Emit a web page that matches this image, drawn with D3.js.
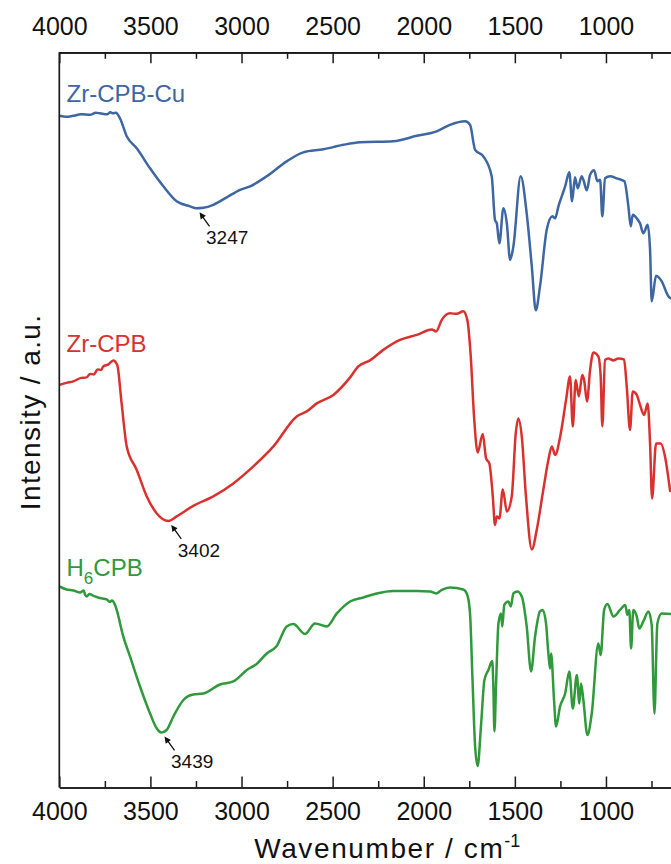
<!DOCTYPE html>
<html>
<head>
<meta charset="utf-8">
<script src="https://cdn.jsdelivr.net/npm/d3@7"></script>
<style>
  body { margin: 0; background: #fff; }
  svg { display: block; font-family: Arial, "Liberation Sans", Helvetica, sans-serif; }
</style>
</head>
<body>
<svg id="chart" width="671" height="864"></svg>
<script>
// FT-IR spectra: [wavenumber (cm-1), intensity (a.u., offset per trace)]
const zrCpbCu = [
  [4000,134.3],[3960,134.1],[3925,134.3],[3880,134.6],[3831,134.5],[3800,134.9],[3777,134.8],
  [3738,134.6],[3720,135.0],[3705,134.8],[3690,134.9],[3667,133.8],[3630,130.2],[3575,127.8],
  [3502,123.8],[3429,120.2],[3356,117.2],[3283,116.2],[3247,115.8],[3210,115.9],[3155,116.5],
  [3081,118.0],[3008,119.5],[2953,120.2],[2862,122.2],[2752,125.2],[2661,127.0],[2551,127.6],
  [2441,128.5],[2350,129.0],[2167,129.2],[2038,130.3],[1929,131.2],[1856,132.5],[1773,133.2],
  [1746,132.5],[1718,127.5],[1673,126.2],[1627,122.2],[1609,113.5],[1599,112.8],[1585,108.8],
  [1563,115.8],[1544,112.8],[1526,105.5],[1508,108.2],[1468,122.2],[1435,114.8],[1407,104.2],
  [1385,95.4],[1362,100.2],[1325,111.5],[1294,114.2],[1279,113.8],[1261,116.2],[1224,120.2],
  [1201,123.0],[1186,117.2],[1170,122.0],[1155,119.8],[1133,122.2],[1124,121.5],[1105,119.4],
  [1087,122.5],[1065,123.4],[1047,121.2],[1032,121.5],[1020,114.2],[1005,121.8],[977,122.2],
  [941,121.8],[899,121.2],[877,116.2],[864,112.2],[853,114.5],[831,113.8],[813,112.8],
  [795,110.8],[771,112.5],[758,107.5],[749,97.2],[725,102.3],[694,101.2],[657,98.2],[643,97.8]
];

const zrCpb = [
  [4000,80.5],[3960,80.9],[3923,81.2],[3880,81.9],[3850,82.0],[3831,82.7],[3810,82.6],
  [3790,83.6],[3770,83.5],[3759,84.2],[3730,84.6],[3704,85.4],[3682,84.5],[3658,76.8],
  [3630,68.2],[3575,63.5],[3520,58.2],[3465,54.8],[3402,53.3],[3356,54.2],[3265,56.3],
  [3155,58.2],[3045,60.8],[2935,64.2],[2825,68.2],[2697,74.2],[2642,75.2],[2587,76.8],
  [2496,78.5],[2404,82.0],[2359,84.2],[2295,85.4],[2222,87.5],[2130,89.5],[2038,90.5],
  [1956,91.6],[1932,91.2],[1901,93.5],[1856,94.8],[1819,94.7],[1783,95.2],[1761,93.5],
  [1742,86.2],[1724,74.2],[1704,67.0],[1676,70.7],[1658,65.8],[1640,64.8],[1621,58.2],
  [1609,52.5],[1599,54.2],[1585,53.8],[1566,59.6],[1544,55.2],[1517,58.2],[1495,70.8],
  [1481,73.8],[1462,70.2],[1439,58.2],[1407,47.6],[1380,51.5],[1344,59.5],[1316,65.5],
  [1297,68.2],[1279,66.5],[1248,70.8],[1219,77.5],[1197,82.2],[1182,72.2],[1166,81.5],
  [1149,78.2],[1130,82.5],[1120,81.5],[1104,77.2],[1087,83.5],[1069,87.0],[1042,86.2],
  [1029,82.2],[1020,72.2],[1005,85.5],[987,85.8],[959,85.4],[932,85.8],[901,85.6],
  [886,80.2],[868,71.5],[853,79.2],[831,78.5],[813,76.5],[791,74.5],[771,76.8],[758,68.8],
  [747,57.8],[725,68.8],[699,68.8],[676,66.2],[648,59.3]
];

const h6Cpb = [
  [4000,40.2],[3960,39.6],[3923,39.4],[3886,39.0],[3866,39.4],[3859,38.6],[3850,38.2],
  [3835,38.7],[3813,38.3],[3777,37.9],[3740,37.6],[3722,37.1],[3712,37.4],[3694,36.5],
  [3685,35.5],[3649,30.2],[3612,26.2],[3557,20.2],[3502,14.8],[3465,11.8],[3439,11.0],
  [3411,11.5],[3374,14.2],[3319,17.5],[3265,18.6],[3210,18.8],[3118,20.6],[3045,21.2],
  [2971,23.5],[2917,24.7],[2862,26.8],[2807,28.3],[2752,32.2],[2716,32.7],[2651,30.7],
  [2597,32.8],[2532,32.2],[2477,34.8],[2404,37.2],[2331,38.0],[2258,38.8],[2167,39.3],
  [2038,39.3],[1965,39.2],[1932,38.8],[1901,39.5],[1856,40.0],[1783,39.6],[1761,38.5],
  [1746,34.8],[1733,22.2],[1718,8.2],[1704,4.3],[1686,12.2],[1667,21.5],[1645,23.5],
  [1624,25.3],[1618,20.2],[1612,11.2],[1603,20.8],[1590,32.8],[1576,34.8],[1569,32.2],
  [1558,36.5],[1536,37.2],[1522,36.2],[1508,38.8],[1486,39.2],[1462,38.2],[1435,32.2],
  [1411,23.2],[1389,30.2],[1362,35.2],[1347,35.5],[1329,32.8],[1316,26.8],[1307,23.8],
  [1301,26.8],[1285,17.5],[1274,12.2],[1252,16.2],[1224,18.8],[1201,23.2],[1182,15.8],
  [1160,22.5],[1146,16.8],[1137,20.8],[1124,17.5],[1102,10.5],[1078,14.8],[1042,28.8],
  [1029,26.5],[1010,35.5],[992,36.7],[959,34.2],[923,35.5],[894,36.5],[883,34.5],[872,35.5],
  [862,27.8],[850,35.5],[831,34.2],[817,31.8],[795,33.2],[767,35.2],[749,32.5],[734,14.8],
  [718,32.8],[694,34.8],[643,34.7]
];

const seriesData = [zrCpbCu, zrCpb, h6Cpb];
const seriesColors = ["#3d66a2", "#d9322e", "#2f993b"];
const seriesLabels = [["Zr-CPB-Cu"], ["Zr-CPB"], ["H", "6", "CPB"]];
const labelBaselines = [101.7, 351.7, 576];

const majorTicks = [4000, 3500, 3000, 2500, 2000, 1500, 1000];
const minorTicks = [3750, 3250, 2750, 2250, 1750, 1250, 750];

// peak annotations: series index and wavenumber of the band minimum
const peaks = [{ s: 0, wave: 3247 }, { s: 1, wave: 3402 }, { s: 2, wave: 3439 }];

const svg = d3.select("#chart");

const plotLeft = 59.3, plotTop = 52.3, plotBottom = 787.5;
const x = d3.scaleLinear().domain([4000, 400]).range([plotLeft, plotLeft + 3600 * 0.18222]);
const y = d3.scaleLinear().domain([0, 147]).range([plotBottom, plotTop]);

svg.append("defs").append("clipPath").attr("id", "plotClip")
  .append("rect").attr("x", plotLeft).attr("y", plotTop)
  .attr("width", x(400) - plotLeft).attr("height", plotBottom - plotTop);

// spectra
const line = d3.line().x(d => x(d[0])).y(d => y(d[1])).curve(d3.curveMonotoneX);
const traces = svg.append("g").attr("clip-path", "url(#plotClip)");
seriesData.forEach((data, i) => {
  traces.append("path")
    .datum(data)
    .attr("fill", "none")
    .attr("stroke", seriesColors[i])
    .attr("stroke-width", 2.5)
    .attr("stroke-linejoin", "round")
    .attr("stroke-linecap", "round")
    .attr("d", line);
});

// axes
const axisColor = "#1a1a1a";
function styleAxis(g) {
  g.selectAll(".domain").attr("stroke", axisColor).attr("stroke-width", 1.7);
  g.selectAll(".tick line").attr("stroke", axisColor).attr("stroke-width", 1.5);
  g.selectAll("text").attr("fill", "#111").style("font-size", "25px")
    .style("font-family", "Arial, 'Liberation Sans', sans-serif");
}

const xTop = svg.append("g").attr("transform", `translate(0,${plotTop})`)
  .call(d3.axisTop(x).tickValues(majorTicks).tickFormat(d3.format("d"))
    .tickSizeInner(-11).tickSizeOuter(0).tickPadding(17.3));
styleAxis(xTop);
const xTopMinor = svg.append("g").attr("transform", `translate(0,${plotTop})`)
  .call(d3.axisTop(x).tickValues(minorTicks).tickFormat("").tickSizeInner(-6.5).tickSizeOuter(0));
styleAxis(xTopMinor);

const xBot = svg.append("g").attr("transform", `translate(0,${plotBottom})`)
  .call(d3.axisBottom(x).tickValues(majorTicks).tickFormat(d3.format("d"))
    .tickSizeInner(-11).tickSizeOuter(0).tickPadding(14.5));
styleAxis(xBot);
const xBotMinor = svg.append("g").attr("transform", `translate(0,${plotBottom})`)
  .call(d3.axisBottom(x).tickValues(minorTicks).tickFormat("").tickSizeInner(-6.5).tickSizeOuter(0));
styleAxis(xBotMinor);

const yAxis = svg.append("g").attr("transform", `translate(${plotLeft},0)`)
  .call(d3.axisLeft(y).tickValues([]).tickSizeOuter(0));
styleAxis(yAxis);
yAxis.select(".domain").attr("d", `M0,${plotTop}V${plotBottom}`);

// axis titles
const xTitle = svg.append("text")
  .attr("x", x(2200)).attr("y", 858)
  .attr("text-anchor", "middle")
  .attr("fill", "#111")
  .style("font-size", "28px")
  .style("letter-spacing", "1.6px");
xTitle.append("tspan").text("Wavenumber / cm");
xTitle.append("tspan").attr("dy", -11).style("font-size", "18px").style("letter-spacing", "0px").text("-1");

svg.append("text")
  .attr("transform", `translate(40,${(plotTop + plotBottom) / 2 - 8}) rotate(-90)`)
  .attr("text-anchor", "middle")
  .attr("fill", "#111")
  .style("font-size", "28px")
  .style("letter-spacing", "1.4px")
  .text("Intensity / a.u.");

// trace labels
seriesLabels.forEach((parts, i) => {
  const t = svg.append("text")
    .attr("x", 66.5).attr("y", labelBaselines[i])
    .attr("fill", seriesColors[i])
    .style("font-size", "24px");
  if (parts.length === 1) {
    t.text(parts[0]);
  } else {
    t.append("tspan").text(parts[0]);
    t.append("tspan").attr("dy", 8).style("font-size", "17px").text(parts[1]);
    t.append("tspan").attr("dy", -8).text(parts[2]);
  }
});

// peak arrows and values
peaks.forEach(p => {
  const pt = seriesData[p.s].find(d => d[0] === p.wave);
  const tipX = x(pt[0]) + 3, tipY = y(pt[1]) + 4;
  const tailX = tipX + 10, tailY = tipY + 14;
  const len = Math.hypot(tailX - tipX, tailY - tipY);
  const ux = (tailX - tipX) / len, uy = (tailY - tipY) / len;
  const hl = 6.5, hw = 3.2;
  svg.append("line")
    .attr("x1", tipX + ux * 3).attr("y1", tipY + uy * 3)
    .attr("x2", tailX).attr("y2", tailY)
    .attr("stroke", "#111").attr("stroke-width", 1.3);
  const bx = tipX + ux * hl, by = tipY + uy * hl;
  svg.append("path")
    .attr("d", `M${tipX},${tipY}L${bx - uy * hw},${by + ux * hw}L${bx + uy * hw},${by - ux * hw}Z`)
    .attr("fill", "#111");
  svg.append("text")
    .attr("x", tailX - 3.5).attr("y", tailY + 18)
    .attr("fill", "#111")
    .style("font-size", "19px")
    .text(String(p.wave));
});
</script>
</body>
</html>
